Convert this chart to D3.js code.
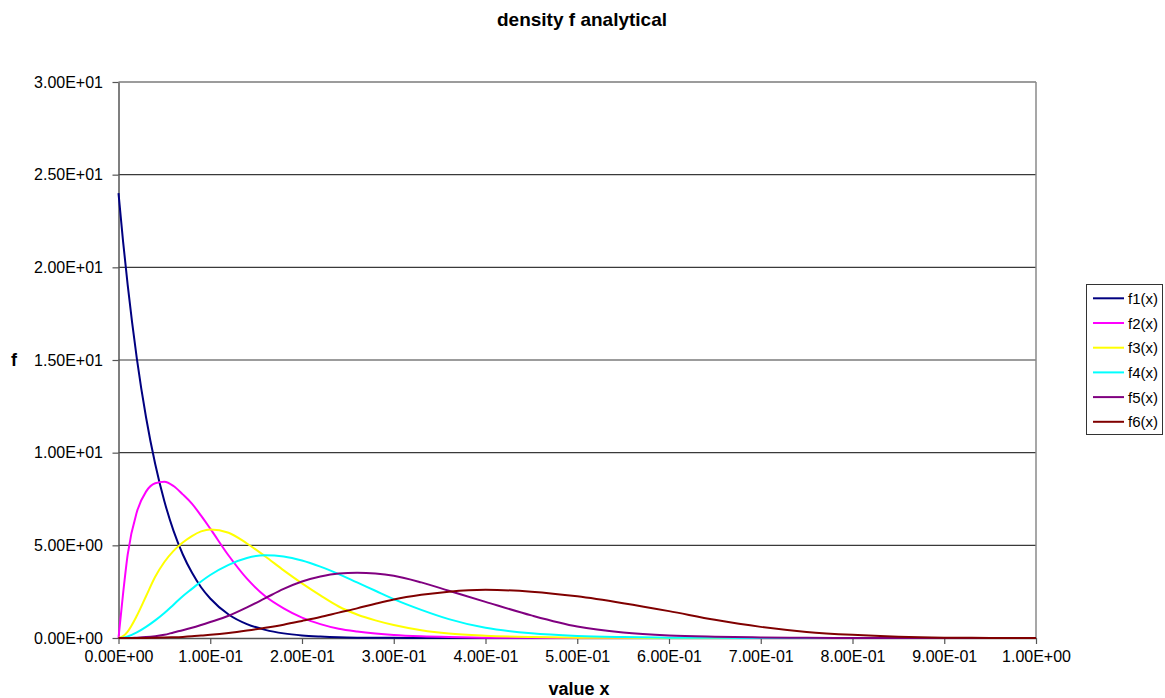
<!DOCTYPE html>
<html>
<head>
<meta charset="utf-8">
<script src="https://cdn.jsdelivr.net/npm/d3@7"></script>
<style>
  body { margin: 0; background: #fff; }
  svg { display: block; font-family: Arial, "Liberation Sans", sans-serif; }
</style>
</head>
<body>
<svg id="chart" width="1165" height="698"></svg>
<script>
// Sample positions along x and the density values of each curve at them
const xValues = [0, 0.005, 0.01, 0.02, 0.03, 0.04, 0.05, 0.06, 0.07, 0.08, 0.09, 0.10,
  0.12, 0.14, 0.16, 0.18, 0.20, 0.22, 0.24, 0.26, 0.28, 0.30, 0.33, 0.36,
  0.40, 0.45, 0.50, 0.55, 0.60, 0.65, 0.70, 0.75, 0.80, 0.85, 0.90, 0.95, 1.00];

const f1Values = [24, 21.39, 19.05, 15.08, 11.91, 9.39, 7.38, 5.78, 4.52, 3.53, 2.74, 2.13,
  1.27, 0.75, 0.44, 0.25, 0.14, 0.08, 0.04, 0.02, 0.01, 0.01, 0, 0,
  0, 0, 0, 0, 0, 0, 0, 0, 0, 0, 0, 0, 0];

const f2Values = [0, 2.4, 4.5, 6.8, 7.9, 8.35, 8.43, 8.2, 7.75, 7.25, 6.6, 5.9,
  4.45, 3.2, 2.25, 1.6, 1.1, 0.75, 0.5, 0.35, 0.24, 0.16, 0.09, 0.05,
  0.02, 0.01, 0, 0, 0, 0, 0, 0, 0, 0, 0, 0, 0];

const f3Values = [0, 0.1, 0.35, 1.2, 2.25, 3.3, 4.1, 4.7, 5.15, 5.5, 5.75, 5.86,
  5.68, 5.1, 4.4, 3.65, 2.95, 2.3, 1.7, 1.27, 0.95, 0.7, 0.42, 0.24,
  0.12, 0.05, 0.02, 0.01, 0, 0, 0, 0, 0, 0, 0, 0, 0];

const f4Values = [0, 0.02, 0.08, 0.3, 0.6, 0.95, 1.35, 1.8, 2.25, 2.65, 3.05, 3.4,
  3.95, 4.32, 4.47, 4.4, 4.18, 3.85, 3.45, 3.0, 2.55, 2.1, 1.52, 1.02,
  0.55, 0.25, 0.11, 0.05, 0.02, 0.01, 0, 0, 0, 0, 0, 0, 0];

const f5Values = [0, 0, 0, 0.02, 0.05, 0.1, 0.17, 0.3, 0.42, 0.55, 0.7, 0.86,
  1.2, 1.65, 2.15, 2.65, 3.05, 3.32, 3.48, 3.52, 3.48, 3.36, 3.0, 2.55,
  1.95, 1.22, 0.62, 0.3, 0.14, 0.07, 0.03, 0.01, 0, 0, 0, 0, 0];

const f6Values = [0, 0, 0, 0.002, 0.006, 0.015, 0.025, 0.04, 0.06, 0.09, 0.13, 0.17,
  0.27, 0.4, 0.55, 0.72, 0.92, 1.13, 1.37, 1.6, 1.85, 2.08, 2.33, 2.5,
  2.6, 2.5, 2.25, 1.88, 1.45, 0.98, 0.6, 0.33, 0.17, 0.07, 0.02, 0.005, 0];

const seriesNames = ["f1(x)", "f2(x)", "f3(x)", "f4(x)", "f5(x)", "f6(x)"];
const seriesColors = ["#000080", "#FF00FF", "#FFFF00", "#00FFFF", "#800080", "#800000"];

const xTicks = [0, 0.1, 0.2, 0.3, 0.4, 0.5, 0.6, 0.7, 0.8, 0.9, 1.0];
const yTicks = [0, 5, 10, 15, 20, 25, 30];

const titleText = "density f analytical";
const xTitle = "value x";
const yTitle = "f";

// Scientific notation in the spreadsheet style: 2.50E+01
function sci(v) {
  const [m, e] = v.toExponential(2).split("e");
  const n = Math.abs(+e);
  return m + "E" + (+e < 0 ? "-" : "+") + (n < 10 ? "0" + n : String(n));
}

const svg = d3.select("#chart");
const plot = { left: 118.5, right: 1036, top: 82, bottom: 638 };

const x = d3.scaleLinear().domain([0, 1]).range([plot.left, plot.right]);
const y = d3.scaleLinear().domain([0, 30]).range([plot.bottom, plot.top]);

// Horizontal gridlines
svg.append("g")
  .selectAll("line")
  .data(yTicks.filter(d => d > 0))
  .join("line")
  .attr("x1", plot.left).attr("x2", plot.right)
  .attr("y1", d => y(d)).attr("y2", d => y(d))
  .attr("stroke", "#3a3a3a").attr("stroke-width", 1.2);

// Right edge of the plot area
svg.append("line")
  .attr("x1", plot.right).attr("x2", plot.right)
  .attr("y1", plot.top).attr("y2", plot.bottom)
  .attr("stroke", "#8a8a8a").attr("stroke-width", 1.5);

// Axes
const yAxis = d3.axisLeft(y).tickValues(yTicks).tickFormat(sci)
  .tickSizeInner(6).tickSizeOuter(0).tickPadding(9.5);
const xAxis = d3.axisBottom(x).tickValues(xTicks).tickFormat(sci)
  .tickSizeInner(6).tickSizeOuter(0).tickPadding(7);

const gy = svg.append("g").attr("transform", `translate(${plot.left},0)`).call(yAxis);
const gx = svg.append("g").attr("transform", `translate(0,${plot.bottom})`).call(xAxis);

[gx, gy].forEach(g => {
  g.select(".domain").attr("stroke", "#555").attr("stroke-width", 1.5);
  g.selectAll(".tick line").attr("stroke", "#555").attr("stroke-width", 1.2);
  g.selectAll(".tick text")
    .attr("fill", "#000")
    .style("font-family", "Arial, 'Liberation Sans', sans-serif")
    .style("font-size", "16px");
});

// Density curves
const series = [f1Values, f2Values, f3Values, f4Values, f5Values, f6Values];
const line = d3.line()
  .x((d, i) => x(xValues[i]))
  .y(d => y(d))
  .curve(d3.curveMonotoneX);

svg.append("g")
  .selectAll("path")
  .data(series)
  .join("path")
  .attr("d", d => line(d))
  .attr("fill", "none")
  .attr("stroke", (d, i) => seriesColors[i])
  .attr("stroke-width", 2)
  .attr("stroke-linejoin", "round");

// Titles
svg.append("text")
  .attr("x", 582).attr("y", 26)
  .attr("text-anchor", "middle")
  .style("font-size", "19px").style("font-weight", "bold")
  .text(titleText);

svg.append("text")
  .attr("x", 579).attr("y", 695)
  .attr("text-anchor", "middle")
  .style("font-size", "18px").style("font-weight", "bold")
  .text(xTitle);

svg.append("text")
  .attr("x", 14).attr("y", 366)
  .attr("text-anchor", "middle")
  .style("font-size", "18px").style("font-weight", "bold")
  .text(yTitle);

// Legend
const legend = svg.append("g");
legend.append("rect")
  .attr("x", 1086.5).attr("y", 284.5)
  .attr("width", 76).attr("height", 150)
  .attr("fill", "#fff").attr("stroke", "#333").attr("stroke-width", 1);

const items = legend.selectAll("g.item")
  .data(seriesNames)
  .join("g")
  .attr("class", "item")
  .attr("transform", (d, i) => `translate(0,${298.3 + i * 24.7})`);

items.append("line")
  .attr("x1", 1093).attr("x2", 1124)
  .attr("stroke", (d, i) => seriesColors[i])
  .attr("stroke-width", 2);

items.append("text")
  .attr("x", 1128).attr("y", 5.5)
  .style("font-size", "15px")
  .text(d => d);
</script>
</body>
</html>
